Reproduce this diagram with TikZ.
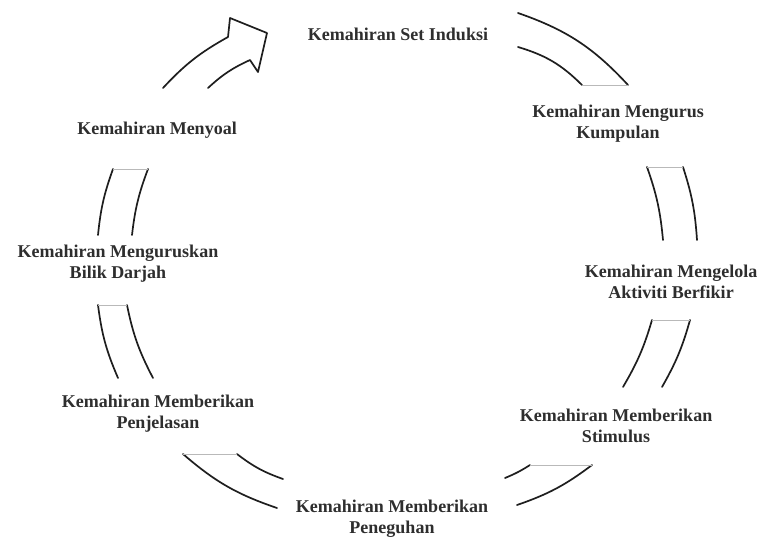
\documentclass[tikz,border=0pt]{standalone}
\usepackage{fontspec}
\setmainfont{Liberation Serif}
\usepackage{tikz}
\definecolor{INK}{HTML}{1E1E1E}
\definecolor{TXT}{HTML}{2E2E2E}
\definecolor{EDGE}{HTML}{B9B9B9}

\begin{document}
\begin{tikzpicture}[x=1pt,y=-1pt]
\tikzset{band/.style={line width=1.7pt,INK,line cap=round,line join=round},capline/.style={EDGE,line width=0.8pt},
 lbl/.style={align=center,font=\fontsize{18}{21}\selectfont\bfseries,text=TXT,inner sep=1pt}}
\useasboundingbox (0,0) rectangle (779,541);
% labels
\node[lbl] (set) at (398,34) {Kemahiran Set Induksi};
\node[lbl] (kumpulan) at (618,124) {Kemahiran Mengurus\\Kumpulan};
\node[lbl] (berfikir) at (671,282) {Kemahiran Mengelola\\Aktiviti Berfikir};
\node[lbl] (stimulus) at (616,426) {Kemahiran Memberikan\\Stimulus};
\node[lbl] (peneguhan) at (392,519) {Kemahiran Memberikan\\Peneguhan};
\node[lbl] (penjelasan) at (158,414) {Kemahiran Memberikan\\Penjelasan};
\node[lbl] (bilik) at (118,264) {Kemahiran Menguruskan\\Bilik Darjah};
\node[lbl] (menyoal) at (157,130) {Kemahiran Menyoal};
% ring pieces
\draw[band] (518,13) to[bend left=14] (628,85);\draw[band] (518,47) to[bend left=14] (582,85);
\draw[capline] (582,85)--(628,85);
\draw[band] (683,167) to[bend left=7] (697,240);\draw[band] (647,167) to[bend left=7] (663,240);
\draw[capline] (647,167)--(683,167);
\draw[band] (690,320) to[bend left=7] (662,387);\draw[band] (652,320) to[bend left=7] (623,387);
\draw[capline] (652,320)--(690,320);
\draw[band] (592,465) to[bend left=9] (517,505);\draw[band] (530,465) to[bend left=5] (505,478);
\draw[capline] (530,465)--(592,465);
\draw[band] (277,508) to[bend left=11] (183,454);\draw[band] (283,479) to[bend left=9] (237,454);
\draw[capline] (183,454)--(237,454);
\draw[band] (118,378) to[bend left=8] (98,305);\draw[band] (153,378) to[bend left=8] (127,305);
\draw[capline] (98,305)--(127,305);
\draw[band] (98,235) to[bend left=7] (113,169);\draw[band] (132,235) to[bend left=7] (148,169);
\draw[capline] (113,169)--(148,169);
% last piece with the head
\draw[band] (163,88) to[bend left=9] (228,37) -- (230,18) -- (267,33) -- (258,72) -- (250,60) to[bend right=9] (208,88);
\end{tikzpicture}
\end{document}
